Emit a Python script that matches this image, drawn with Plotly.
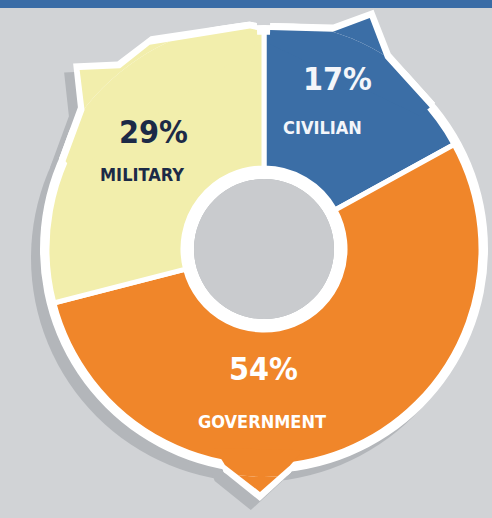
import numpy as np
import plotly.graph_objects as go

# ---- data ----
categories = ["CIVILIAN", "GOVERNMENT", "MILITARY"]
shares = [17, 54, 29]
slice_colors = ["#3b6ea6", "#f0862a", "#f2eeac"]
label_colors = ["#f4f6fa", "#ffffff", "#1c2a47"]

# ---- styling constants (pixels / degrees) ----
W, H = 492, 518
CX, CY = 264, 249          # donut centre in page pixels
RP = 228                   # polar subplot radius in pixels (radial axis = pixels)
R_OUT, R_IN = 217, 81      # coloured ring
RIM_OUT, RIM_IN = 224, 70  # white rim behind it
RIM_W = 7
SHADOW_DX, SHADOW_DY = -9, 9
BG = "#d1d3d6"
HOLE = "#c9cbce"
SHADOW = "#b3b6ba"
# pointer shape for each slice: where along the slice the tip sits and its outline
# (angle offset from the tip in degrees, radius in pixels)
arrow_frac = [0.402, 0.616, 0.561]
arrow_profile = [
    [(-23, 205), (-23, 219), (-7, 228), (0, 254), (7.8, 226), (24.9, 218), (24.9, 205)],
    [(-12, 205), (-7.8, 218), (0, 243), (9.3, 219.5), (13, 205)],
    [(-22, 205), (-20.3, 217), (-6.4, 227), (0, 257), (7.3, 231), (16.6, 234),
     (42.2, 221), (44, 219), (44, 205)],
]

spans = np.array(shares) / sum(shares) * 360.0
starts = np.concatenate([[0], np.cumsum(spans)[:-1]])
mids = starts + spans / 2
tips = starts + np.array(arrow_frac) * spans


def polar_domain(cx, cy):
    return dict(x=[(cx - RP) / W, (cx + RP) / W],
                y=[(H - cy - RP) / H, (H - cy + RP) / H])


def arrow_pts(tip, prof, grow=0.0):
    th, rr = [], []
    for d, r in prof:
        if r < R_OUT - 5:          # hidden base point
            th.append(tip + d); rr.append(r)
        elif r <= 221:             # point where the pointer meets the rim
            th.append(tip + d); rr.append(r + grow)
        else:                      # protruding outline point
            th.append(tip + d * (1 + grow * 0.01))
            rr.append(r + grow * (1.3 if d == 0 else 1))
    return np.array(th + [th[0]]), np.array(rr + [rr[0]])


def to_xy(th, rr, dx=0, dy=0):
    t = np.radians(th)
    return CX + dx + rr * np.sin(t), CY + dy - rr * np.cos(t)


fig = go.Figure()

# --- cartesian layer (bottom): full pointers, shadow / white outline / colour ---
for tip, prof, col in zip(tips, arrow_profile, slice_colors):
    for color, grow, dx, dy in [(SHADOW, RIM_W, SHADOW_DX, SHADOW_DY),
                                ("#ffffff", RIM_W, 0, 0), (col, 0, 0, 0)]:
        th, rr = arrow_pts(tip, prof, grow)
        x, y = to_xy(th, rr, dx, dy)
        fig.add_trace(go.Scatter(x=x, y=y, mode="lines", fill="toself", fillcolor=color,
                                 line=dict(width=0, color=color), hoverinfo="skip",
                                 showlegend=False))

# shadow disk
fig.add_shape(type="circle", xref="x", yref="y", layer="below",
              x0=CX + SHADOW_DX - RIM_OUT, x1=CX + SHADOW_DX + RIM_OUT,
              y0=CY + SHADOW_DY - RIM_OUT, y1=CY + SHADOW_DY + RIM_OUT,
              fillcolor=SHADOW, line=dict(width=0))

# --- polar2: white rim, hole fill and clipped white pointers ---
fig.add_trace(go.Barpolar(theta=[90, 270, 90, 270], width=[180] * 4,
                          base=[RIM_IN, RIM_IN, 0, 0],
                          r=[RIM_OUT - RIM_IN] * 2 + [RIM_IN] * 2,
                          marker=dict(color=["#ffffff", "#ffffff", HOLE, HOLE], line=dict(width=0)),
                          hoverinfo="skip", showlegend=False, subplot="polar2"))
for tip, prof in zip(tips, arrow_profile):
    th, rr = arrow_pts(tip, prof, grow=RIM_W)
    fig.add_trace(go.Scatterpolar(theta=th, r=rr, mode="lines", fill="toself",
                                  fillcolor="#ffffff", line=dict(width=0, color="#ffffff"),
                                  hoverinfo="skip", showlegend=False, subplot="polar2"))

# --- polar3: coloured slices + clipped coloured pointers ---
fig.add_trace(go.Barpolar(
    theta=mids, width=spans, base=[R_IN] * len(shares), r=[R_OUT - R_IN] * len(shares),
    marker=dict(color=slice_colors, line=dict(color="#ffffff", width=5)),
    customdata=shares, text=categories,
    hovertemplate="%{text}: %{customdata}%<extra></extra>",
    showlegend=False, subplot="polar3"))
for tip, prof, col in zip(tips, arrow_profile, slice_colors):
    th, rr = arrow_pts(tip, prof)
    fig.add_trace(go.Scatterpolar(theta=th, r=rr, mode="lines", fill="toself",
                                  fillcolor=col, line=dict(width=0, color=col),
                                  hoverinfo="skip", showlegend=False, subplot="polar3"))

hidden_polar = dict(
    bgcolor="rgba(0,0,0,0)",
    radialaxis=dict(range=[0, RP], visible=False),
    angularaxis=dict(rotation=90, direction="clockwise", visible=False),
)
fig.update_layout(
    polar2=dict(domain=polar_domain(CX, CY), **hidden_polar),
    polar3=dict(domain=polar_domain(CX, CY), **hidden_polar),
    xaxis=dict(range=[0, W], visible=False, fixedrange=True),
    yaxis=dict(range=[H, 0], visible=False, fixedrange=True),
)

font_fam = "DejaVu Sans Condensed, DejaVu Sans, sans-serif"
label_pos = {"CIVILIAN": (337, 79, 322, 127), "MILITARY": (153, 132, 142, 174),
             "GOVERNMENT": (263, 369, 262, 421)}
for cat, val, col in zip(categories, shares, label_colors):
    x1, y1, x2, y2 = label_pos[cat]
    fig.add_annotation(x=x1 / W, y=1 - y1 / H, xref="paper", yref="paper",
                       xanchor="center", yanchor="middle",
                       text=f"<b>{val}%</b>", showarrow=False,
                       font=dict(family=font_fam, size=32, color=col))
    fig.add_annotation(x=x2 / W, y=1 - y2 / H, xref="paper", yref="paper",
                       xanchor="center", yanchor="middle",
                       text=f"<b>{cat}</b>", showarrow=False,
                       font=dict(family=font_fam, size=18, color=col))

fig.add_shape(type="rect", xref="paper", yref="paper", x0=0, x1=1, y0=1 - 8 / H, y1=1,
              fillcolor="#3a6ca6", line=dict(width=0), layer="above")

fig.update_layout(width=W, height=H, margin=dict(l=0, r=0, t=0, b=0),
                  paper_bgcolor=BG, plot_bgcolor=BG)
fig.write_html("out.html", config={"displayModeBar": False},
               post_script="document.body.style.margin='0';document.body.style.overflow='hidden';")
